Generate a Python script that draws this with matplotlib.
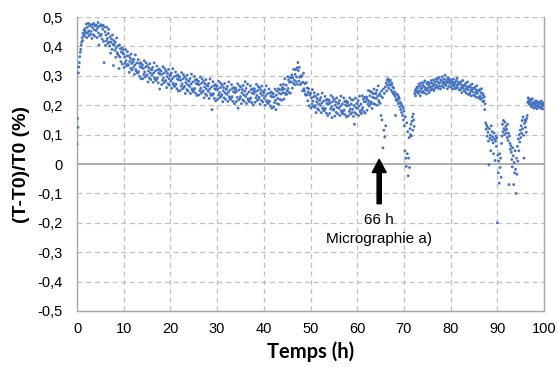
import matplotlib
matplotlib.use("Agg")
import matplotlib.pyplot as plt
import numpy as np

# Relative transmission change (T-T0)/T0 in %, one row per hour (samples evenly spaced in the hour)
hourly_samples = [
    [.068, .155, .125, .31, .33, .345, .365, .38, .39, .405],          # 0 h
    [.415, .43, .42, .445, .44, .455, .435, .46, .45, .445],
    [.476, .430, .465, .445, .479, .453, .436, .470, .474, .441],
    [.451, .473, .427, .464, .475, .440, .478, .457, .435, .470],
    [.472, .454, .471, .430, .462, .481, .446, .405, .469, .436],
    [.436, .474, .441, .469, .425, .458, .472, .417, .345, .466],
    [.450, .404, .439, .419, .465, .427, .410, .444, .458, .415],
    [.401, .433, .377, .414, .425, .390, .439, .407, .335, .420],
    [.405, .387, .414, .363, .395, .429, .379, .374, .402, .369],
    [.325, .405, .364, .392, .348, .381, .395, .340, .378, .389],
    [.374, .328, .363, .343, .389, .351, .334, .368, .382, .339],       # 10 h
    [.336, .368, .312, .349, .360, .325, .374, .342, .320, .355],
    [.347, .329, .356, .305, .337, .371, .321, .316, .344, .311],
    [.309, .355, .314, .342, .298, .331, .345, .290, .328, .339],
    [.336, .290, .325, .305, .351, .313, .296, .330, .344, .301],
    [.303, .335, .279, .316, .327, .292, .341, .309, .287, .322],
    [.320, .302, .329, .278, .310, .344, .294, .289, .317, .284],
    [.287, .333, .292, .320, .276, .309, .323, .255, .306, .317],
    [.316, .270, .305, .285, .331, .293, .276, .310, .324, .281],
    [.284, .316, .260, .297, .308, .273, .322, .290, .268, .303],
    [.300, .282, .309, .258, .290, .324, .274, .269, .297, .264],       # 20 h
    [.267, .313, .272, .300, .256, .289, .303, .248, .286, .297],
    [.296, .250, .285, .265, .311, .273, .256, .290, .304, .261],
    [.264, .296, .240, .277, .288, .253, .302, .270, .248, .283],
    [.282, .264, .291, .240, .272, .306, .256, .251, .279, .246],
    [.252, .298, .257, .285, .241, .274, .288, .233, .271, .282],
    [.281, .235, .270, .250, .296, .258, .241, .275, .289, .246],
    [.249, .281, .225, .262, .273, .238, .287, .255, .233, .268],
    [.265, .247, .274, .223, .255, .289, .239, .234, .262, .185],
    [.234, .280, .239, .267, .223, .256, .270, .215, .253, .264],
    [.266, .220, .255, .235, .281, .243, .226, .260, .274, .231],       # 30 h
    [.236, .268, .212, .249, .260, .225, .274, .242, .220, .255],
    [.255, .237, .264, .213, .245, .279, .229, .224, .252, .219],
    [.224, .270, .229, .257, .213, .246, .260, .205, .243, .254],
    [.258, .212, .247, .227, .273, .190, .218, .252, .266, .223],
    [.229, .261, .205, .242, .253, .218, .267, .235, .213, .248],
    [.280, .230, .257, .206, .238, .272, .222, .217, .245, .212],
    [.220, .266, .225, .253, .209, .242, .256, .201, .239, .250],
    [.256, .210, .245, .225, .271, .233, .216, .250, .264, .221],
    [.227, .259, .203, .240, .251, .216, .265, .233, .211, .246],
    [.242, .224, .251, .200, .232, .266, .216, .211, .239, .206],       # 40 h
    [.209, .255, .214, .242, .198, .231, .245, .190, .228, .239],
    [.240, .194, .229, .209, .255, .217, .185, .234, .248, .205],
    [.223, .256, .203, .241, .253, .219, .269, .238, .217, .253],
    [.260, .243, .271, .221, .255, .290, .241, .237, .268, .237],
    [.249, .297, .257, .286, .243, .278, .294, .241, .280, .293],
    [.303, .258, .294, .275, .322, .285, .270, .305, .321, .280],
    [.296, .327, .271, .345, .318, .282, .329, .295, .270, .300],
    [.297, .276, .300, .249, .278, .309, .256, .248, .273, .237],
    [.234, .277, .236, .259, .215, .245, .256, .198, .234, .241],
    [.238, .191, .225, .204, .253, .214, .196, .229, .242, .193],       # 50 h
    [.199, .231, .175, .212, .223, .188, .237, .205, .183, .218],
    [.217, .199, .226, .175, .207, .241, .191, .186, .214, .181],
    [.184, .230, .189, .217, .173, .206, .220, .165, .203, .214],
    [.218, .172, .207, .187, .233, .195, .158, .212, .226, .183],
    [.187, .219, .163, .200, .211, .176, .225, .193, .171, .206],
    [.207, .189, .216, .165, .197, .231, .181, .176, .204, .171],
    [.179, .225, .184, .212, .168, .201, .215, .160, .198, .209],
    [.210, .164, .199, .179, .225, .187, .170, .204, .218, .175],
    [.186, .218, .162, .199, .135, .175, .224, .192, .170, .205],
    [.207, .189, .216, .165, .197, .231, .181, .176, .204, .171],       # 60 h
    [.185, .232, .192, .221, .178, .212, .227, .173, .212, .224],
    [.228, .183, .219, .204, .250, .213, .197, .232, .247, .205],
    [.211, .244, .189, .227, .239, .205, .255, .224, .203, .239],
    [.242, .224, .251, .200, .232, .266, .216, .211, .239, .206],
    [.232, .165, .248, .150, .226, .055, .255, .115, .240, .092],
    [.262, .130, .275, .248, .285, .268, .290, .258, .278, .282],
    [.268, .285, .252, .270, .275, .246, .262, .240, .258, .236],
    [.245, .230, .165, .218, .238, .222, .215, .235, .205, .228],
    [.222, .195, .210, .185, .205, .175, .198, .165, .190, .150],
    [.180, .130, .045, .160, .020, -.008, .140, .035, .110, -.040],    # 70 h
    [.020, .090, -.012, .120, .100, .135, .095, .145, .160, .115],
    [.170, .150, .128, .240, .250, .232, .255, .245, .262, .248],
    [.260, .240, .272, .248, .265, .232, .255, .276, .244, .259],
    [.268, .247, .277, .242, .263, .283, .253, .258, .238, .273],
    [.250, .278, .258, .268, .243, .275, .263, .251, .284, .259],
    [.275, .254, .266, .286, .250, .271, .280, .258, .268, .290],
    [.263, .281, .289, .258, .274, .294, .265, .277, .255, .286],
    [.285, .264, .297, .274, .280, .260, .289, .270, .302, .278],
    [.268, .286, .277, .256, .293, .280, .264, .289, .274, .284],
    [.281, .261, .286, .270, .255, .278, .289, .265, .273, .257],       # 80 h
    [.277, .257, .284, .267, .292, .260, .271, .279, .252, .273],
    [.272, .253, .279, .260, .243, .268, .284, .258, .266, .249],
    [.267, .247, .274, .256, .240, .263, .279, .253, .262, .236],
    [.262, .241, .267, .250, .232, .258, .272, .246, .256, .234],
    [.257, .234, .261, .243, .228, .252, .266, .240, .248, .226],
    [.249, .226, .253, .232, .220, .243, .256, .225, .240, .212],
    [.235, .215, .228, .185, .205, .140, .118, .132, .095, .125],
    [.108, .078, -.003, .120, .088, .098, .045, .130, .082, .110],
    [.092, .072, .035, .105, .085, .012, .078, .095, .060, .088],
    [-.200, .030, -.030, .010, -.065, .035, -.012, .020, -.045, .070],  # 90 h
    [.095, .135, .110, .148, .120, .100, .142, .115, .128, .105],
    [.118, .090, .135, .080, .105, -.070, .095, .070, .050, .062],
    [.040, .015, -.010, .055, .028, -.070, .005, -.030, .045, -.018],
    [-.100, .020, -.035, .060, .010, .085, .045, .100, .075, .115],
    [.090, .130, .105, .148, .120, .160, .098, .020, .138, .150],
    [.125, .145, .108, .155, .165, .210, .225, .215, .205, .220],
    [.212, .200, .218, .195, .205, .222, .198, .210, .190, .207],
    [.203, .192, .215, .198, .208, .188, .212, .200, .195, .209],
    [.197, .210, .190, .205, .214, .193, .202, .187, .208, .199],
    [.203],                                                             # 100 h
]

x_ticks = list(range(0, 101, 10))
y_ticks = [-0.5, -0.4, -0.3, -0.2, -0.1, 0.0, 0.1, 0.2, 0.3, 0.4, 0.5]
y_tick_labels = ["-0,5", "-0,4", "-0,3", "-0,2", "-0,1", "0", "0,1", "0,2", "0,3", "0,4", "0,5"]
arrow_time = 64.7
annotation_lines = ["66 h", "Micrographie a)"]

times, values = [], []
for hour, row in enumerate(hourly_samples):
    n = len(row)
    for j, v in enumerate(row):
        times.append(hour + j / max(n, 1))
        values.append(v)

fig = plt.figure(figsize=(5.58, 3.67), dpi=100)
ax = fig.add_axes([0.138, 0.1526, 0.837, 0.801])

grid_color = "#BFBFBF"
for xt in x_ticks[1:-1]:
    ax.axvline(xt, color=grid_color, lw=0.9, ls=(0, (4, 3)), zorder=0)
for yt in y_ticks:
    if abs(yt) < 1e-9:
        continue
    ax.axhline(yt, color=grid_color, lw=0.9, ls=(0, (4, 3)), zorder=0)
ax.axhline(0, color="#A6A6A6", lw=1.3, zorder=1)

ax.scatter(times, values, s=4.2, color="#4472C4", edgecolors="none", zorder=3)

ax.set_xlim(0, 100)
ax.set_ylim(-0.5, 0.5)
ax.set_xticks(x_ticks)
ax.set_yticks(y_ticks)
ax.set_yticklabels(y_tick_labels)
ax.tick_params(length=0, labelsize=10.5, colors="#000000")
ax.tick_params(axis="y", pad=10)
ax.tick_params(axis="x", pad=8)
for lab in ax.get_xticklabels() + ax.get_yticklabels():
    lab.set_family("Liberation Sans")

for side in ["left", "bottom", "right"]:
    ax.spines[side].set_color("#A6A6A6")
    ax.spines[side].set_linewidth(1.0)
ax.spines["top"].set_visible(False)

ax.set_xlabel("Temps (h)", family="Lato", fontweight="bold", fontsize=14.5, labelpad=4)
ax.set_ylabel("(T-T0)/T0 (%)", family="Liberation Sans", fontweight="bold", fontsize=14, labelpad=6)

ax.annotate("", xy=(arrow_time, 0.016), xytext=(arrow_time, -0.135),
            arrowprops=dict(facecolor="black", edgecolor="black", width=3.0,
                            headwidth=10, headlength=9.5, shrink=0), zorder=4)
ax.text(arrow_time, -0.19, annotation_lines[0], ha="center", va="center",
        family="Liberation Sans", fontsize=11)
ax.text(arrow_time, -0.255, annotation_lines[1], ha="center", va="center",
        family="Liberation Sans", fontsize=11)

fig.savefig("out.png", dpi=100)
